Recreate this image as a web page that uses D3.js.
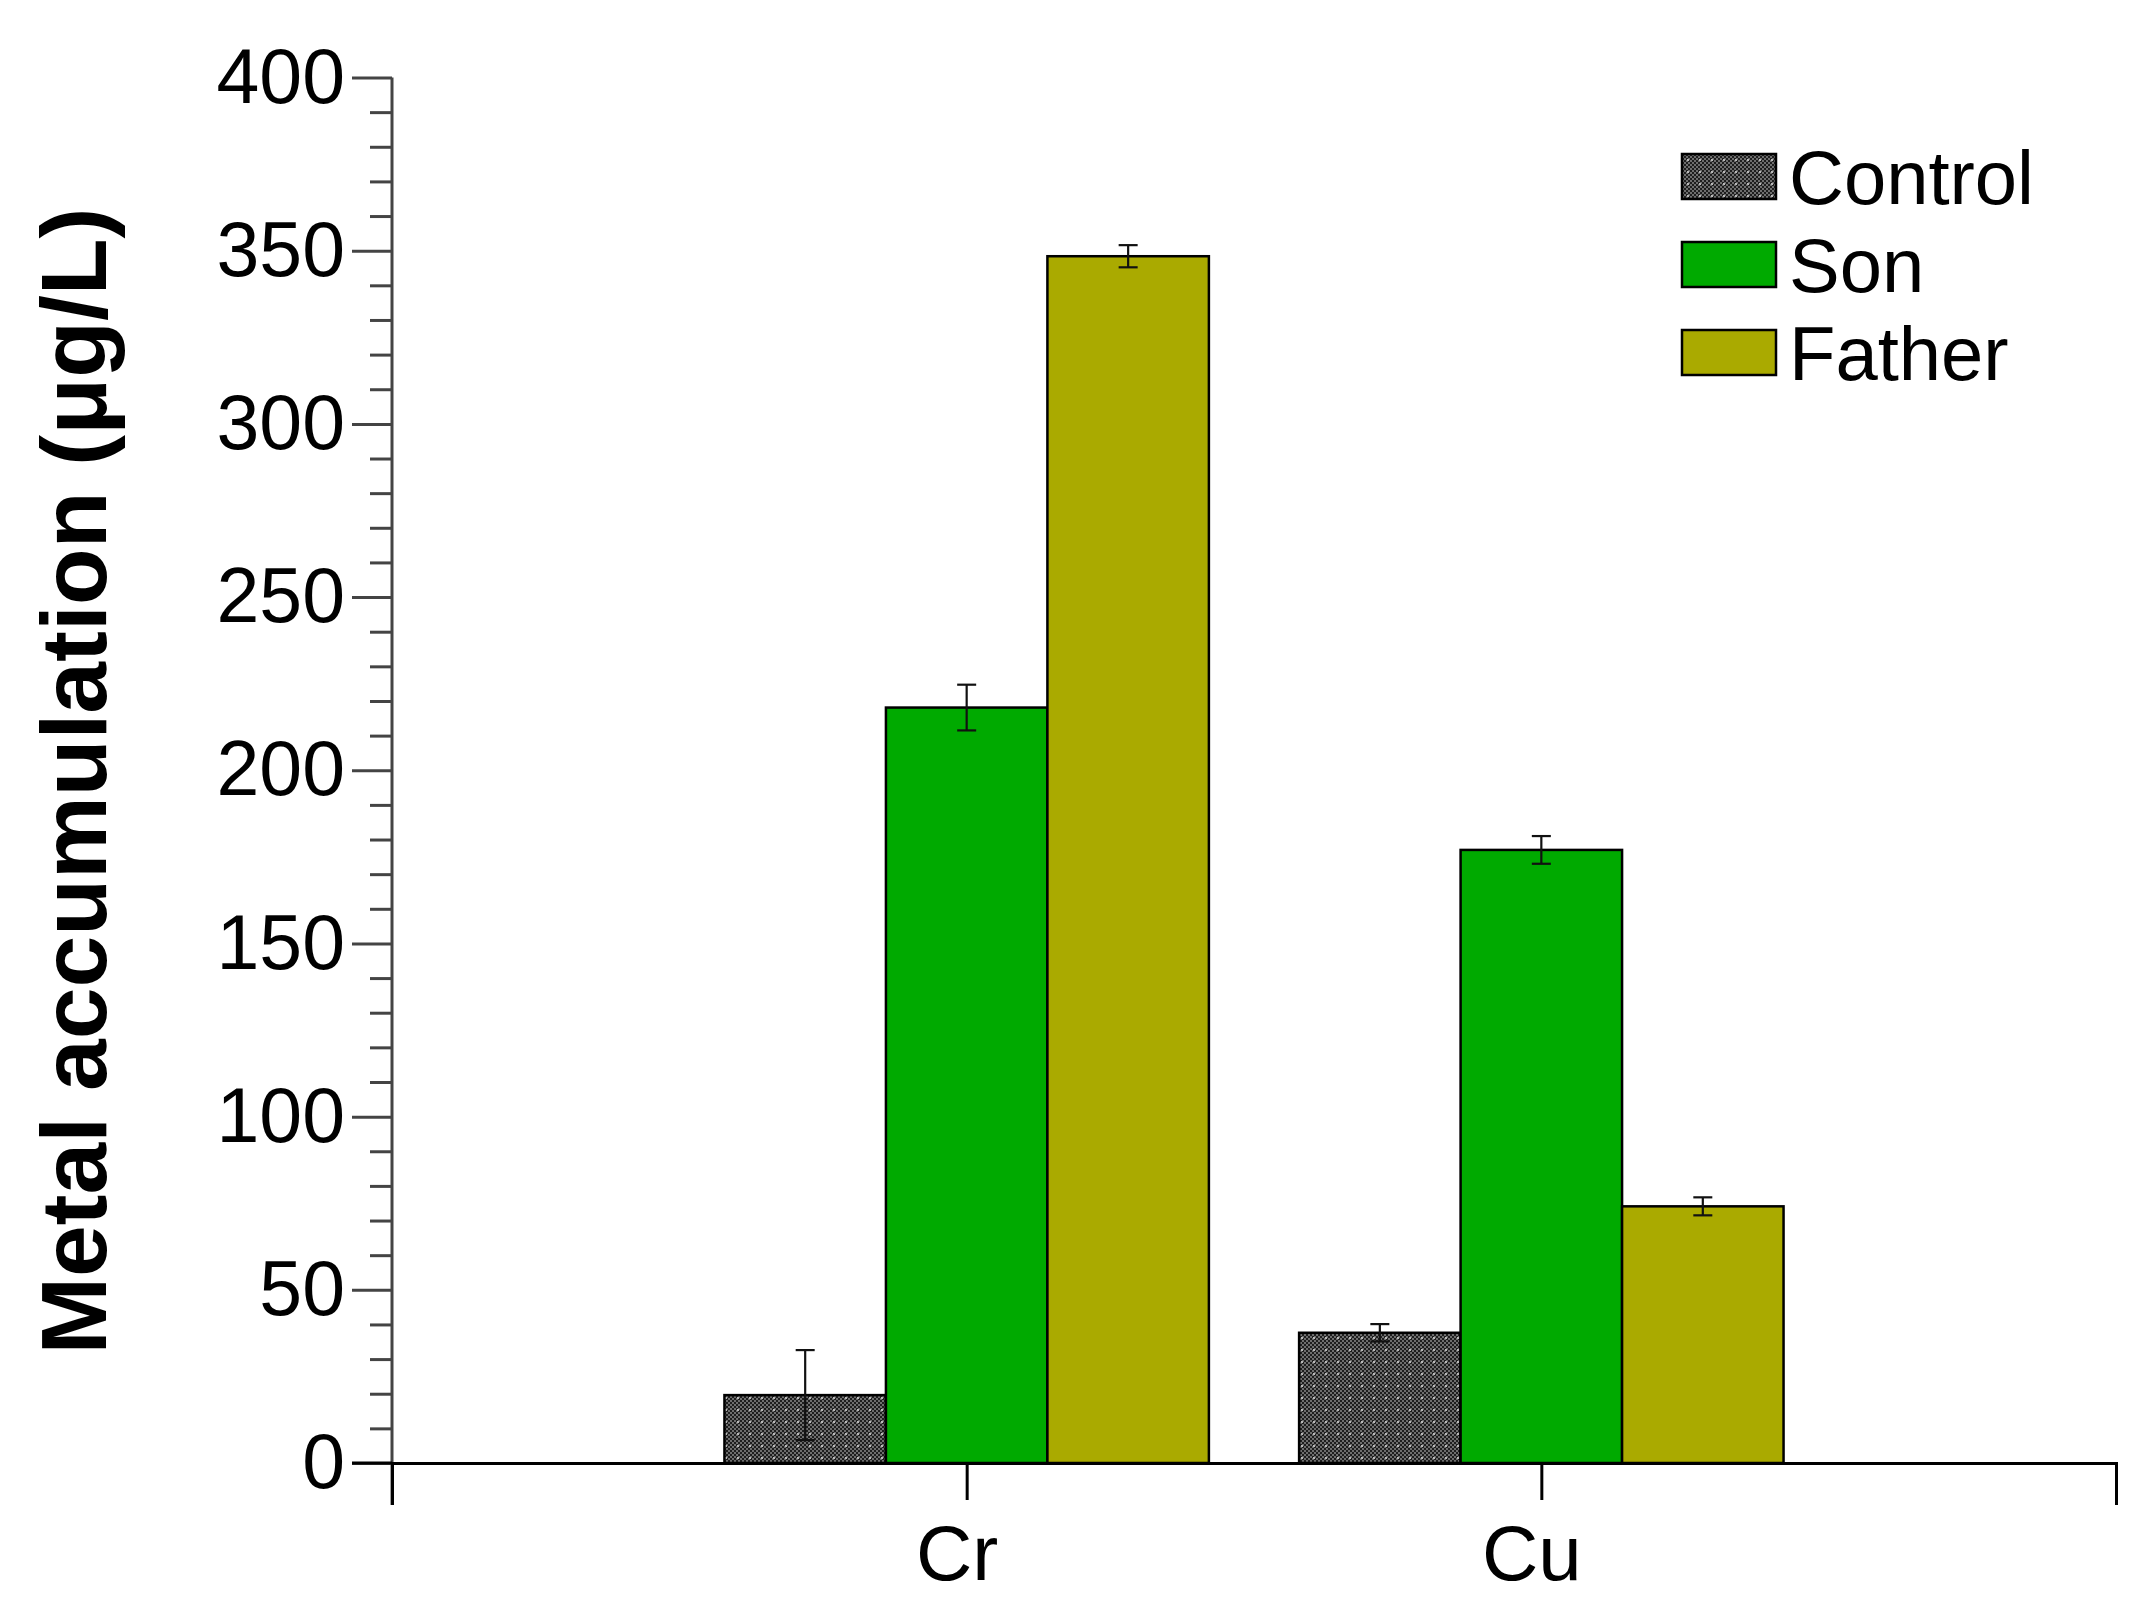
<!DOCTYPE html>
<html>
<head>
<meta charset="utf-8">
<script src="https://cdn.jsdelivr.net/npm/d3@7"></script>
<style>
  body { margin: 0; background: #fff; }
  text { font-family: "Liberation Sans", Arial, sans-serif; fill: #000; }
</style>
</head>
<body>
<div id="chart"></div>
<script>
// Chart data
var metals = ["Cr", "Cu"];
var groups = ["Control", "Son", "Father"];
var controlVals = [19.6, 37.6];
var sonVals = [218.1, 177.0];
var fatherVals = [348.4, 74.1];
var controlErr = [13.0, 2.5];
var sonErr = [6.6, 4.0];
var fatherErr = [3.2, 2.6];
var yTicks = [0, 50, 100, 150, 200, 250, 300, 350, 400];

var svgWidth = 2142;
var svgHeight = 1617;

var svg = d3.select("#chart")
    .append("svg")
    .attr("width", svgWidth)
    .attr("height", svgHeight);

// pattern for the control bars (dark checker)
var defs = svg.append("defs");
var pat = defs.append("pattern")
    .attr("id", "checker")
    .attr("patternUnits", "userSpaceOnUse")
    .attr("width", 12)
    .attr("height", 12);
pat.append("rect").attr("width", 12).attr("height", 12).attr("fill", "#6e6e6e");
for (var i = 0; i < 12; i += 2) {
    for (var j = 0; j < 12; j += 2) {
        if ((i + j) % 4 === 0) {
            pat.append("rect").attr("x", i).attr("y", j).attr("width", 2).attr("height", 2).attr("fill", "#1e1e1e");
        }
    }
}
pat.append("rect").attr("x", 5).attr("y", 5).attr("width", 2).attr("height", 2).attr("fill", "#b8b8b8");

// scales
var x = d3.scaleLinear().domain([0, 3]).range([392, 2116]);
var y = d3.scaleLinear().domain([0, 400]).range([1463, 77.5]);

var barW = 0.281; // in category units
var fills = ["url(#checker)", "#00aa00", "#aaaa00"];

var data = [];
metals.forEach(function(m, mi) {
    [controlVals, sonVals, fatherVals].forEach(function(vals, gi) {
        var errs = [controlErr, sonErr, fatherErr][gi];
        data.push({metal: m, group: groups[gi], gi: gi, pos: mi + 1 + (gi - 1) * barW, value: vals[mi], err: errs[mi]});
    });
});

// bars
svg.append("g").selectAll("rect")
    .data(data)
    .enter()
    .append("rect")
    .attr("x", d => x(d.pos - barW / 2))
    .attr("width", d => x(d.pos + barW / 2) - x(d.pos - barW / 2))
    .attr("y", d => y(d.value))
    .attr("height", d => y(0) - y(d.value))
    .attr("fill", d => fills[d.gi])
    .attr("stroke", "#000")
    .attr("stroke-width", 2.5);

// error bars
var eb = svg.append("g").attr("stroke", "#111").attr("stroke-width", 2.2);
data.forEach(function(d) {
    var cx = x(d.pos);
    eb.append("line").attr("x1", cx).attr("x2", cx).attr("y1", y(d.value + d.err)).attr("y2", y(d.value - d.err));
    eb.append("line").attr("x1", cx - 9.5).attr("x2", cx + 9.5).attr("y1", y(d.value + d.err)).attr("y2", y(d.value + d.err));
    eb.append("line").attr("x1", cx - 9.5).attr("x2", cx + 9.5).attr("y1", y(d.value - d.err)).attr("y2", y(d.value - d.err));
});

// minor y ticks
var minor = d3.range(0, 401, 10).filter(v => v % 50 !== 0);
svg.append("g")
    .attr("transform", "translate(392,0)")
    .call(d3.axisLeft(y).tickValues(minor).tickSize(22).tickFormat(""))
    .call(g => g.select(".domain").remove())
    .selectAll("line").attr("stroke", "#444").attr("stroke-width", 3);

// major y ticks with labels
var yAxis = svg.append("g")
    .attr("transform", "translate(392,0)")
    .call(d3.axisLeft(y).tickValues(yTicks).tickSize(40).tickSizeOuter(0).tickPadding(7));
yAxis.select(".domain").remove();
yAxis.selectAll("line").attr("stroke", "#444").attr("stroke-width", 3);
yAxis.selectAll("text")
    .style("font-size", "77px")
    .style("font-family", "'Liberation Sans', Arial, sans-serif")
    .attr("fill", "#000");

// y axis line, extends below the x axis
svg.append("line")
    .attr("x1", 392).attr("x2", 392)
    .attr("y1", y(400)).attr("y2", 1505)
    .attr("stroke", "#444").attr("stroke-width", 3);

// x axis
var xAxis = svg.append("g")
    .attr("transform", "translate(0," + y(0) + ")")
    .call(d3.axisBottom(x).tickValues([1, 2]).tickSize(37).tickSizeOuter(42).tickPadding(25)
        .tickFormat(d => metals[d - 1]));
xAxis.select(".domain").attr("stroke", "#000").attr("stroke-width", 3);
xAxis.selectAll("line").attr("stroke", "#000").attr("stroke-width", 3);
xAxis.selectAll("text")
    .attr("dx", -10)
    .style("font-size", "78px")
    .style("font-family", "'Liberation Sans', Arial, sans-serif")
    .attr("fill", "#000");

// left stub of the x axis under the 0 tick
svg.append("line")
    .attr("x1", 352).attr("x2", 392)
    .attr("y1", y(0)).attr("y2", y(0))
    .attr("stroke", "#000").attr("stroke-width", 3);

// y axis title
svg.append("text")
    .attr("transform", "translate(106,781) rotate(-90)")
    .attr("text-anchor", "middle")
    .style("font-size", "93px")
    .style("font-weight", "bold")
    .text("Metal accumulation (μg/L)");

// legend
var legend = svg.append("g").attr("transform", "translate(1682,154)");
groups.forEach(function(gname, gi) {
    var row = legend.append("g").attr("transform", "translate(0," + gi * 88 + ")");
    row.append("rect")
        .attr("width", 94).attr("height", 45)
        .attr("fill", fills[gi])
        .attr("stroke", "#000").attr("stroke-width", 2.5);
    row.append("text")
        .attr("x", 107).attr("y", 22.5)
        .attr("dy", "0.36em")
        .style("font-size", "76px")
        .text(gname);
});
</script>
</body>
</html>
